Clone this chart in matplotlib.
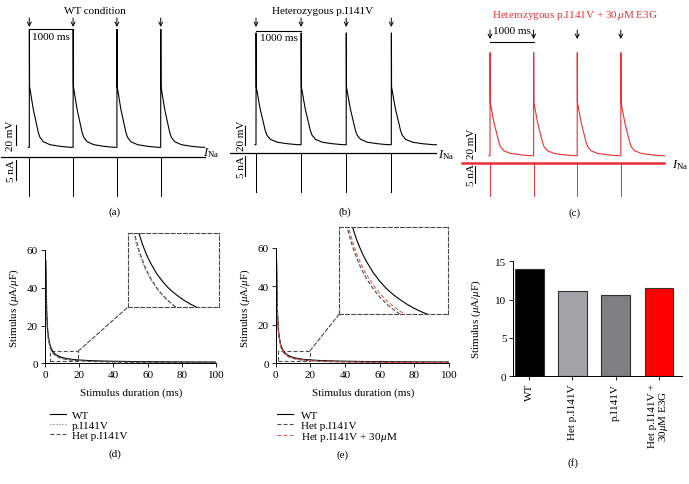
import matplotlib
matplotlib.use('Agg')

import matplotlib.pyplot as plt
from matplotlib.patches import Rectangle, ConnectionPatch
from matplotlib.lines import Line2D

plt.rcParams['font.family'] = ['Liberation Serif', 'DejaVu Serif']
plt.rcParams['font.size'] = 8.0
plt.rcParams['mathtext.fontset'] = 'custom'
plt.rcParams['mathtext.rm'] = 'Liberation Serif'
plt.rcParams['mathtext.it'] = 'Liberation Serif:italic'

# --- data -------------------------------------------------------------
# stimulation protocol (ms)
stim_times = [0, 1000, 2000, 3000]
trace_start = -25
trace_end = 4000
current_start = -650
rest_mv = -85

# action potential after each stimulus (ms after stimulus, mV)
ap_t = [0, 2, 6, 91, 205, 243, 320, 472, 700, 928]
ap_v = [-85, 33, -24, -47, -70, -75, -79.4, -82.4, -84, -85]

ina_peak = -9.75  # nA

# strength-duration curves (stimulus duration ms -> uA/uF)
durations = [0.5, 1, 1.5, 2, 3, 4, 5, 5.5, 6, 6.5, 7, 7.5, 8, 9, 10, 11, 12, 13,
             14, 15, 16, 18, 20, 25, 30, 40, 50, 60, 70, 80, 90, 100]
sd_wt = [54.4, 27.4, 18.4, 13.9, 9.4, 7.15, 5.8, 5.31, 4.9, 4.55, 4.26, 4.0, 3.78,
         3.4, 3.1, 2.85, 2.65, 2.48, 2.33, 2.2, 2.09, 1.9, 1.75, 1.48, 1.3, 1.08,
         0.94, 0.85, 0.79, 0.74, 0.7, 0.67]
sd_p = [47.4, 23.8, 15.93, 12.0, 8.07, 6.1, 4.92, 4.49, 4.13, 3.83, 3.57, 3.35, 3.15,
        2.82, 2.56, 2.35, 2.17, 2.02, 1.89, 1.77, 1.68, 1.51, 1.38, 1.14, 0.99, 0.79,
        0.67, 0.59, 0.54, 0.5, 0.46, 0.44]
sd_het = [50.45, 25.25, 16.85, 12.65, 8.45, 6.35, 5.09, 4.63, 4.25, 3.93, 3.65, 3.41,
          3.2, 2.85, 2.57, 2.34, 2.15, 1.99, 1.85, 1.73, 1.63, 1.45, 1.31, 1.06, 0.89,
          0.68, 0.55, 0.47, 0.41, 0.37, 0.33, 0.3]
sd_het_e3g = [51.9, 26.0, 17.37, 13.05, 8.73, 6.58, 5.28, 4.81, 4.42, 4.08, 3.8, 3.55,
              3.34, 2.98, 2.69, 2.45, 2.26, 2.09, 1.95, 1.83, 1.72, 1.54, 1.4, 1.14,
              0.96, 0.75, 0.62, 0.53, 0.47, 0.42, 0.39, 0.36]

bar_labels = ['WT', 'Het p.I141V', 'p.I141V', 'Het p.I141V +\n30$\\mu$M E3G']
bar_values = [14.0, 11.1, 10.6, 11.5]
bar_colors = ['black', '#a4a4a8', '#808083', '#ff0000']

# --- figure -----------------------------------------------------------
W, H = 689, 485
fig = plt.figure(figsize=(W / 100, H / 100), dpi=100)


def px_axes(x0, y0, x1, y1):
    return fig.add_axes([x0 / W, 1 - y1 / H, (x1 - x0) / W, (y1 - y0) / H])


def ftext(x, y, s, **kw):
    kw.setdefault('ha', 'center')
    kw.setdefault('va', 'center')
    fig.text(x / W, 1 - y / H, s, **kw)


# voltage trace and INa built from the stimulus protocol
v_t = [trace_start]
v_v = [rest_mv]
i_t = [current_start]
i_v = [0]
for s in stim_times:
    v_t += [s + t for t in ap_t]
    v_v += ap_v
    i_t += [s, s, s]
    i_v += [0, ina_peak, 0]
v_t.append(trace_end)
v_v.append(rest_mv)
i_t.append(trace_end)
i_v.append(0)

red = '#e83035'
panels = [
    dict(x0=0, x1=230, t0=29.3, mspx=0.0438, vbase=148.3, mvpx=1.0, ibase=158,
         napx=4.0, color='black', base_lw=0.9, arrow=(19, 28), bar_y=30, bar_txt=37.5,
         mv_x=15.5, mv_txt=10.5, mv_off=2, na_x=16, na_txt=11,
         title='WT condition', title_xy=(95, 11), tcolor='black',
         ina_xy=(203, 153), label='(a)', label_xy=(115, 212)),
    dict(x0=230, x1=460, t0=256, mspx=0.0451, vbase=145.7, mvpx=0.947, ibase=154.3,
         napx=4.0, color='black', base_lw=0.9, arrow=(19, 28), bar_y=32, bar_txt=38.5,
         mv_x=245, mv_txt=241, mv_off=0, na_x=245, na_txt=241,
         title='Heterozygous p.I141V', title_xy=(323, 12), tcolor='black',
         ina_xy=(438, 155), label='(b)', label_xy=(345, 212)),
    dict(x0=460, x1=689, t0=490, mspx=0.0436, vbase=156.7, mvpx=0.873, ibase=164.3,
         napx=3.35, color=red, base_lw=1.8, arrow=(31, 40), bar_y=43, bar_txt=32,
         mv_x=475, mv_txt=471, mv_off=5, na_x=475, na_txt=471,
         title='Heterozygous p.I141V + 30$\\,\\mu$M E3G', title_xy=(575, 15), tcolor=red,
         ina_xy=(672, 165), label='(c)', label_xy=(575, 213)),
]

for p in panels:
    xlim = ((p['x0'] - p['t0']) / p['mspx'], (p['x1'] - p['t0']) / p['mspx'])
    axv = px_axes(p['x0'], 0, p['x1'], p['vbase'] + 4)
    axv.set_xlim(xlim)
    axv.set_ylim(rest_mv - 4 / p['mvpx'], rest_mv + p['vbase'] / p['mvpx'])
    axv.axis('off')
    axi = px_axes(p['x0'], p['ibase'] - 5, p['x1'], p['ibase'] + 45)
    axi.set_xlim(xlim)
    axi.set_ylim(-45 / p['napx'], 5 / p['napx'])
    axi.axis('off')

    def vy(ypx, p=p):
        return rest_mv + (p['vbase'] - ypx) / p['mvpx']

    def tx(xpx, p=p):
        return (xpx - p['t0']) / p['mspx']

    axv.plot(v_t, v_v, color=p['color'], lw=0.8)
    axi.plot(i_t, i_v, color=p['color'], lw=0.7)
    axi.plot([i_t[0], i_t[-1]], [0, 0], color=p['color'], lw=p['base_lw'])

    for s in stim_times:
        axv.annotate('', xy=(s, vy(p['arrow'][1])), xytext=(s, vy(p['arrow'][0])),
                     arrowprops=dict(arrowstyle='->', lw=0.7, color='black',
                                     shrinkA=0, shrinkB=0, mutation_scale=7))
    axv.plot([stim_times[0], stim_times[1]], [vy(p['bar_y'])] * 2, color='black', lw=0.8)
    axv.text(500, vy(p['bar_txt']), '1000 ms', ha='center', va='center')

    b0 = rest_mv + p['mv_off']
    axv.plot([tx(p['mv_x'])] * 2, [b0, b0 + 20], color='black', lw=0.8)
    axv.text(tx(p['mv_txt']), b0 + 10, '20 mV', rotation=90, ha='center', va='center')
    axi.plot([tx(p['na_x'])] * 2, [-0.75, -5.75], color='black', lw=0.8)
    axi.text(tx(p['na_txt']), -3.25, '5 nA', rotation=90, ha='center', va='center')

    ftext(*p['title_xy'], p['title'], color=p['tcolor'])
    ftext(*p['ina_xy'], '$I_{\\rm Na}$', ha='left', fontsize=9)
    ftext(*p['label_xy'], p['label'])


def style_axes(ax):
    for side in ('top', 'right'):
        ax.spines[side].set_visible(False)
    for side in ('left', 'bottom'):
        ax.spines[side].set_linewidth(0.7)
    ax.tick_params(direction='out', length=3, width=0.6, pad=2, labelsize=8)


gray_d = '#4a4a4a'
dash = (0, (3.5, 2))

# panel d
ax_d = px_axes(45, 251, 216, 364.3)
ax_d.plot(durations, sd_wt, color='black', lw=0.8)
ax_d.plot(durations, sd_p, color='#777777', lw=0.8, ls=':')
ax_d.plot(durations, sd_het, color=gray_d, lw=0.8, ls=dash)
ax_d.set_xlim(0, 100)
ax_d.set_ylim(0, 60)
ax_d.set_xticks([0, 20, 40, 60, 80, 100])
ax_d.set_yticks([0, 20, 40, 60])
style_axes(ax_d)
ax_d.add_patch(Rectangle((3, 1.2), 16.5, 5.3, fill=False, ls=dash, lw=0.8, ec=gray_d))

ax_di = px_axes(128, 234, 219, 308)
ax_di.plot(durations, sd_wt, color='black', lw=0.8)
ax_di.plot(durations, sd_p, color='#777777', lw=0.8, ls=':')
ax_di.plot(durations, sd_het, color=gray_d, lw=0.8, ls=dash)
ax_di.set_xlim(4, 20)
ax_di.set_ylim(2.09, 4.96)
ax_di.set_xticks([])
ax_di.set_yticks([])
for sp in ax_di.spines.values():
    sp.set_linestyle(dash)
    sp.set_linewidth(0.8)
    sp.set_edgecolor(gray_d)
fig.add_artist(ConnectionPatch(xyA=(19.5, 6.5), coordsA=ax_d.transData, xyB=(0, 0),
                               coordsB=ax_di.transAxes, ls=dash, lw=0.8, color=gray_d))
ftext(14, 308, 'Stimulus ($\\mu$A/$\\mu$F)', rotation=90)
ftext(131, 393, 'Stimulus duration (ms)')
ax_d.legend(handles=[Line2D([], [], color='black', lw=0.8),
                     Line2D([], [], color='#777777', lw=0.8, ls=':'),
                     Line2D([], [], color=gray_d, lw=0.8, ls=dash)],
            labels=['WT', 'p.I141V', 'Het p.I141V'], loc='upper left',
            bbox_to_anchor=(50 / W, 1 - 411.5 / H), bbox_transform=fig.transFigure,
            frameon=False, handlelength=1.4, handletextpad=0.6, labelspacing=0.0,
            borderpad=0, borderaxespad=0, fontsize=8)
ftext(115, 454, '(d)')

# panel e
red_d = '#e05a5a'
ax_e = px_axes(275.7, 249, 449, 364.3)
ax_e.plot(durations, sd_wt, color='black', lw=0.8)
ax_e.plot(durations, sd_het, color=gray_d, lw=0.8, ls=dash)
ax_e.plot(durations, sd_het_e3g, color=red_d, lw=0.8, ls=dash)
ax_e.set_xlim(0, 100)
ax_e.set_ylim(0, 60)
ax_e.set_xticks([0, 20, 40, 60, 80, 100])
ax_e.set_yticks([0, 20, 40, 60])
style_axes(ax_e)
ax_e.add_patch(Rectangle((1.3, 1.35), 18.5, 5.2, fill=False, ls=dash, lw=0.8, ec=gray_d))

ax_ei = px_axes(339.3, 227.7, 448.3, 315)
ax_ei.plot(durations, sd_wt, color='black', lw=0.8)
ax_ei.plot(durations, sd_het, color=gray_d, lw=0.8, ls=dash)
ax_ei.plot(durations, sd_het_e3g, color=red_d, lw=0.8, ls=dash)
ax_ei.set_xlim(4, 20)
ax_ei.set_ylim(2.01, 4.96)
ax_ei.set_xticks([])
ax_ei.set_yticks([])
for sp in ax_ei.spines.values():
    sp.set_linestyle(dash)
    sp.set_linewidth(0.8)
    sp.set_edgecolor(gray_d)
fig.add_artist(ConnectionPatch(xyA=(19.8, 6.55), coordsA=ax_e.transData, xyB=(0, 0),
                               coordsB=ax_ei.transAxes, ls=dash, lw=0.8, color=gray_d))
ftext(245, 308, 'Stimulus ($\\mu$A/$\\mu$F)', rotation=90)
ftext(363, 393, 'Stimulus duration (ms)')
ax_e.legend(handles=[Line2D([], [], color='black', lw=0.8),
                     Line2D([], [], color=gray_d, lw=0.8, ls=dash),
                     Line2D([], [], color=red_d, lw=0.8, ls=dash)],
            labels=['WT', 'Het p.I141V', 'Het p.I141V + 30$\\,\\mu$M'], loc='upper left',
            bbox_to_anchor=(276.7 / W, 1 - 411 / H), bbox_transform=fig.transFigure,
            frameon=False, handlelength=1.5, handletextpad=0.65, labelspacing=0.0,
            borderpad=0, borderaxespad=0, fontsize=8)
ftext(343, 455, '(e)')

# panel f
ax_f = px_axes(513.3, 262.3, 681.7, 377.3)
ax_f.bar(range(len(bar_values)), bar_values, width=0.66, color=bar_colors,
         edgecolor='#333333', linewidth=0.8)
ax_f.set_xlim(-0.37, 3.53)
ax_f.set_ylim(0, 15)
ax_f.set_yticks([0, 5, 10, 15])
ax_f.set_xticks(range(len(bar_values)))
ax_f.set_xticklabels(bar_labels, rotation=90, linespacing=0.95)
style_axes(ax_f)
ftext(476, 319, 'Stimulus ($\\mu$A/$\\mu$F)', rotation=90)
ftext(573, 463, '(f)')

fig.savefig('out.png', dpi=100)
